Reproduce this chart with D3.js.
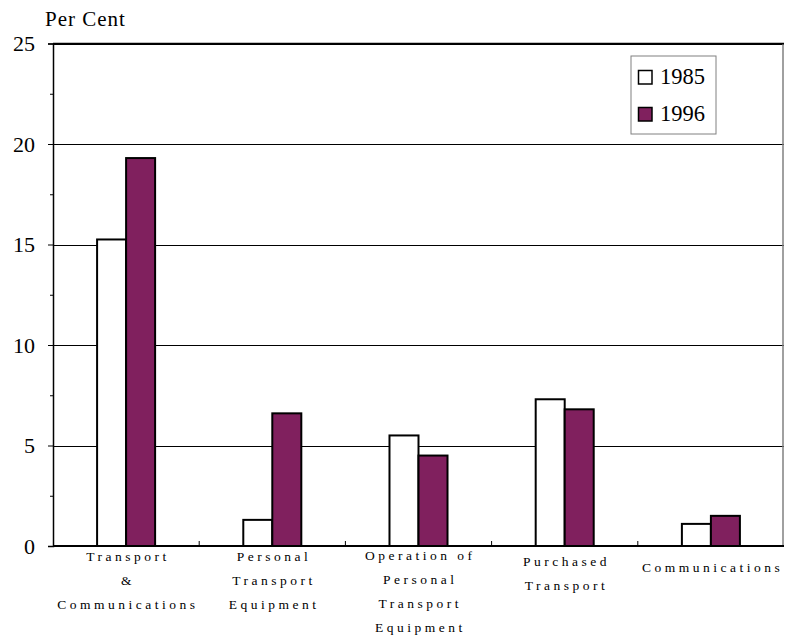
<!DOCTYPE html>
<html>
<head>
<meta charset="utf-8">
<script src="https://cdn.jsdelivr.net/npm/d3@7"></script>
<style>
  html, body { margin: 0; padding: 0; background: #fff; }
  svg { display: block; }
  text { font-family: "Liberation Serif", "Times New Roman", serif; fill: #000; }
</style>
</head>
<body>
<svg id="chart" width="786" height="635"></svg>
<script>
const categories = [
  "Transport & Communications",
  "Personal Transport Equipment",
  "Operation of Personal Transport Equipment",
  "Purchased Transport",
  "Communications"
];
const categoryLabelLines = [
  ["Transport", "&", "Communications"],
  ["Personal", "Transport", "Equipment"],
  ["Operation of", "Personal", "Transport", "Equipment"],
  ["Purchased", "Transport"],
  ["Communications"]
];
const seriesNames = ["1985", "1996"];
const values1985 = [15.25, 1.3, 5.5, 7.3, 1.1];
const values1996 = [19.3, 6.6, 4.5, 6.8, 1.5];
const yTicks = [0, 5, 10, 15, 20, 25];
const yMinorTicks = [2.5, 7.5, 12.5, 17.5, 22.5];
const yLabel = "Per Cent";

const seriesValues = [values1985, values1996];
const colors = { "1985": "#ffffff", "1996": "#80205e" };

const svg = d3.select("#chart");
const mLeft = 53, mRight = 784, mTop = 43.5, mBottom = 546;

const x = d3.scaleBand().domain(categories).range([mLeft, mRight]).padding(0);
const xs = d3.scaleBand().domain(seriesNames).range([0, x.bandwidth()]).paddingInner(0).paddingOuter(1.52);
const y = d3.scaleLinear().domain([0, 25]).range([mBottom, mTop]);

// gridlines
svg.append("g").selectAll("line")
  .data(yTicks.filter(d => d > 0))
  .join("line")
  .attr("x1", mLeft).attr("x2", mRight)
  .attr("y1", d => Math.round(y(d)) + 0.5).attr("y2", d => Math.round(y(d)) + 0.5)
  .attr("stroke", "#000").attr("stroke-width", 1);

// right border
svg.append("line")
  .attr("x1", mRight - 1).attr("x2", mRight - 1)
  .attr("y1", y(25)).attr("y2", y(0))
  .attr("stroke", "#808080").attr("stroke-width", 1.5);

// bars
const groups = svg.append("g").selectAll("g")
  .data(categories)
  .join("g")
  .attr("transform", d => `translate(${x(d)},0)`);

groups.selectAll("rect")
  .data((d, i) => seriesNames.map((s, j) => ({ s, v: seriesValues[j][i] })))
  .join("rect")
  .attr("x", d => xs(d.s))
  .attr("width", xs.bandwidth())
  .attr("y", d => y(d.v))
  .attr("height", d => y(0) - y(d.v))
  .attr("fill", d => colors[d.s])
  .attr("stroke", "#000")
  .attr("stroke-width", 2);

// y axis major
const yAxis = d3.axisLeft(y).tickValues(yTicks).tickSize(5).tickPadding(13).tickFormat(d3.format("d"));
const gy = svg.append("g").attr("transform", `translate(${mLeft},0)`).call(yAxis);
gy.attr("font-family", null);
gy.select(".domain").attr("stroke", "#000").attr("stroke-width", 1.5);
gy.selectAll(".tick line").attr("stroke", "#000");
gy.selectAll(".tick text").attr("font-size", 22).attr("dy", "0.34em");

// y axis minor
const yAxisMinor = d3.axisLeft(y).tickValues(yMinorTicks).tickSize(3).tickFormat("");
const gym = svg.append("g").attr("transform", `translate(${mLeft},0)`).call(yAxisMinor);
gym.select(".domain").remove();
gym.selectAll(".tick line").attr("stroke", "#000");

// top border
svg.append("line")
  .attr("x1", mLeft).attr("x2", mRight)
  .attr("y1", y(25)).attr("y2", y(25))
  .attr("stroke", "#000").attr("stroke-width", 1.5);

// x axis
const boundaries = categories.slice(1).map(c => x(c));
const gx = svg.append("g");
gx.append("line")
  .attr("x1", mLeft).attr("x2", mRight)
  .attr("y1", y(0)).attr("y2", y(0))
  .attr("stroke", "#000").attr("stroke-width", 2);
gx.selectAll("line.tk")
  .data(boundaries)
  .join("line")
  .attr("class", "tk")
  .attr("x1", d => d).attr("x2", d => d)
  .attr("y1", y(0)).attr("y2", y(0) - 5)
  .attr("stroke", "#000").attr("stroke-width", 1);

// category labels
const firstBaseline = [572, 566, 561, 560];
categories.forEach((c, i) => {
  const lines = categoryLabelLines[i];
  const t = svg.append("text")
    .attr("text-anchor", "middle")
    .attr("font-size", 13.5)
    .attr("letter-spacing", "3.5px");
  lines.forEach((ln, k) => {
    t.append("tspan")
      .attr("x", x(c) + x.bandwidth() / 2 + 1.8)
      .attr("y", firstBaseline[lines.length - 1] + k * 24)
      .text(ln);
  });
});

// y label
svg.append("text")
  .attr("x", 45).attr("y", 26)
  .attr("font-size", 21)
  .attr("letter-spacing", "1px")
  .text(yLabel);

// legend
const lg = svg.append("g");
lg.append("rect")
  .attr("x", 631).attr("y", 56).attr("width", 85).attr("height", 78)
  .attr("fill", "#fff").attr("stroke", "#808080").attr("stroke-width", 1);
seriesNames.forEach((s, i) => {
  lg.append("rect")
    .attr("x", 638.5).attr("y", 70.5 + i * 37).attr("width", 13.5).attr("height", 13.5)
    .attr("fill", colors[s]).attr("stroke", "#000").attr("stroke-width", 1.5);
  lg.append("text")
    .attr("x", 660).attr("y", 83.5 + i * 37)
    .attr("font-size", 22.5)
    .text(s);
});
</script>
</body>
</html>
